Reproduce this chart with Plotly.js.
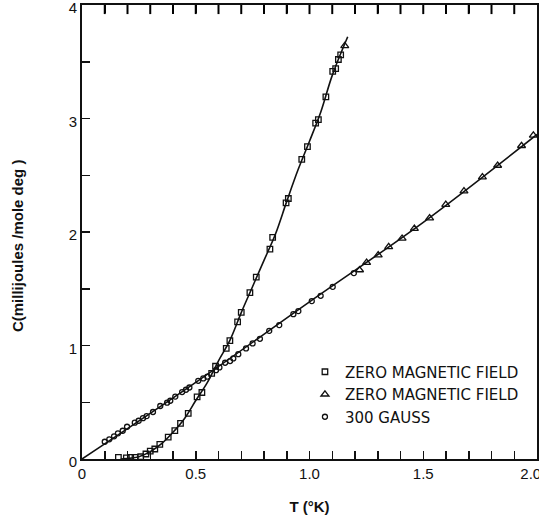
<!DOCTYPE html>
<html>
<head>
<meta charset="utf-8">
<script src="https://cdn.plot.ly/plotly-3.0.1.min.js"></script>
<style>html,body{margin:0;padding:0;background:#fff;}#chart{width:539px;height:521px;}</style>
</head>
<body>
<div id="chart"></div>
<script>
// Zero magnetic field (squares)
const sqT = [0.16,0.195,0.214,0.233,0.258,0.281,0.30,0.32,0.342,0.379,0.408,0.433,0.467,0.506,0.527,0.57,0.587,0.634,0.65,0.684,0.70,0.738,0.766,0.826,0.838,0.897,0.907,0.966,0.991,1.027,1.039,1.072,1.102,1.115,1.127,1.137];
const sqC = [0.015,0.01,0.015,0.015,0.02,0.044,0.07,0.088,0.129,0.193,0.25,0.314,0.402,0.548,0.586,0.754,0.817,0.974,1.043,1.209,1.292,1.465,1.603,1.849,1.952,2.257,2.295,2.64,2.752,2.96,2.99,3.19,3.415,3.44,3.52,3.56];
// Zero magnetic field (triangles)
const triT = [1.155,1.22,1.251,1.302,1.348,1.407,1.461,1.528,1.599,1.679,1.76,1.827,1.932,1.984];
const triC = [3.64,1.665,1.73,1.796,1.869,1.943,2.03,2.122,2.242,2.36,2.483,2.586,2.76,2.852];
// 300 gauss (circles)
const cirT = [0.10,0.12,0.141,0.158,0.179,0.198,0.232,0.249,0.268,0.284,0.312,0.344,0.374,0.388,0.41,0.44,0.457,0.472,0.511,0.533,0.551,0.589,0.604,0.629,0.651,0.665,0.687,0.721,0.75,0.782,0.823,0.867,0.929,0.951,1.01,1.049,1.102,1.195];
const cirC = [0.152,0.173,0.20,0.226,0.249,0.284,0.32,0.337,0.36,0.378,0.414,0.467,0.496,0.513,0.55,0.59,0.61,0.63,0.689,0.71,0.725,0.783,0.807,0.848,0.863,0.886,0.924,0.974,1.018,1.059,1.129,1.18,1.276,1.303,1.391,1.438,1.517,1.638];
// Drawn curves
const steepT = [0.17,0.25,0.30,0.35,0.40,0.45,0.50,0.55,0.60,0.65,0.70,0.75,0.80,0.85,0.90,0.95,1.00,1.05,1.10,1.168];
const steepC = [0.0,0.02,0.065,0.135,0.235,0.355,0.515,0.67,0.865,1.045,1.29,1.52,1.75,1.98,2.27,2.55,2.80,3.06,3.38,3.72];
const linT = [0,0.5,1.0,1.5,2.0];
const linC = [0,0.675,1.385,2.085,2.86];
const legendNames = ['ZERO MAGNETIC FIELD','ZERO MAGNETIC FIELD','300 GAUSS'];
const xTickVals = [0,0.5,1.0,1.5,2.0];
const xTickText = ['0','0.5','1.0','1.5','2.0\u00a0\u00a0\u00a0'];
const topTickVals = [0.1,0.2,0.3,0.4,0.5,0.6,0.7,0.8,0.9,1.0,1.1,1.2,1.3,1.4,1.5,1.6,1.7,1.8,1.9];
const yTickVals = [0,1,2,3,4];
const yTickText = ['0','1','2','3','4'];
const xTitle = 'T (°K)';
const yTitle = 'C(millijoules /mole deg )';

const yMax = 4;
const lineStyle = {color:'#111', width:1.6};
const traces = [
  {x:steepT, y:steepC, mode:'lines', line:Object.assign({shape:'spline'}, lineStyle), showlegend:false, hoverinfo:'skip'},
  {x:linT, y:linC, mode:'lines', line:Object.assign({shape:'spline'}, lineStyle), showlegend:false, hoverinfo:'skip'},
  {x:sqT, y:sqC, mode:'markers', name:legendNames[0], legendgroup:'a',
   marker:{symbol:'square-open', size:5.5, color:'#111', line:{width:1.3, color:'#111'}}},
  {x:triT, y:triC, mode:'markers', name:legendNames[1], legendgroup:'b', cliponaxis:false,
   marker:{symbol:'triangle-up-open', size:7, color:'#111', line:{width:1.3, color:'#111'}}},
  {x:cirT, y:cirC, mode:'markers', name:legendNames[2], legendgroup:'c',
   marker:{symbol:'circle-open', size:5, color:'#111', line:{width:1.3, color:'#111'}}}
];

// top-frame tick marks hanging down from the top edge (in axis units)
const topTickDepth = 0.08;
const topTicks = topTickVals.map(v => ({type:'line', xref:'x', yref:'y', x0:v, x1:v, y0:yMax, y1:yMax - topTickDepth,
                                         line:{color:'#000', width:2}, layer:'above'}));

const tickFont = {family:'Liberation Sans, Arial, sans-serif', size:15, color:'#111'};
const layout = {
  width:539, height:521,
  margin:{l:82, r:2, t:5, b:62},
  paper_bgcolor:'#fff', plot_bgcolor:'#fff',
  showlegend:true,
  shapes: topTicks,
  legend:{x:0.49, y:0.228, xanchor:'left', yanchor:'top', bgcolor:'rgba(0,0,0,0)',
          font:{family:'DejaVu Sans, sans-serif', size:15, color:'#111'},
          tracegroupgap:0, itemwidth:30},
  xaxis:{range:[0,2.0], showgrid:false, zeroline:false,
         showline:true, linecolor:'#111', linewidth:2, mirror:'ticks',
         ticks:'inside', ticklen:8, tickwidth:1.5, tickcolor:'#111',
         tickmode:'array', tickvals:xTickVals, ticktext:xTickText,
         tickfont:tickFont, ticklabeloverflow:'allow',
         minor:{dtick:0.1, ticks:'inside', ticklen:8, tickwidth:1.5, tickcolor:'#111', showgrid:false},
         title:{text:xTitle, font:{family:'Liberation Sans, Arial, sans-serif', size:15, color:'#111', weight:'bold'}, standoff:20}},
  yaxis:{range:[0,yMax], showgrid:false, zeroline:false,
         showline:true, linecolor:'#111', linewidth:2, mirror:true,
         ticks:'inside', ticklen:8, tickwidth:1.5, tickcolor:'#111',
         tickmode:'array', tickvals:yTickVals, ticktext:yTickText,
         tickfont:tickFont, ticklabeloverflow:'allow', ticklabelshift:3,
         minor:{dtick:0.5, ticks:'inside', ticklen:8, tickwidth:1.5, tickcolor:'#111', showgrid:false}},
  annotations:[{text:yTitle, xref:'paper', yref:'paper', x:-0.143, y:0.471, xanchor:'center', yanchor:'middle',
                textangle:-90, showarrow:false,
                font:{family:'Liberation Sans, Arial, sans-serif', size:15, color:'#111', weight:'bold'}}]
};
Plotly.newPlot('chart', traces, layout, {staticPlot:true, displayModeBar:false});
</script>
</body>
</html>
